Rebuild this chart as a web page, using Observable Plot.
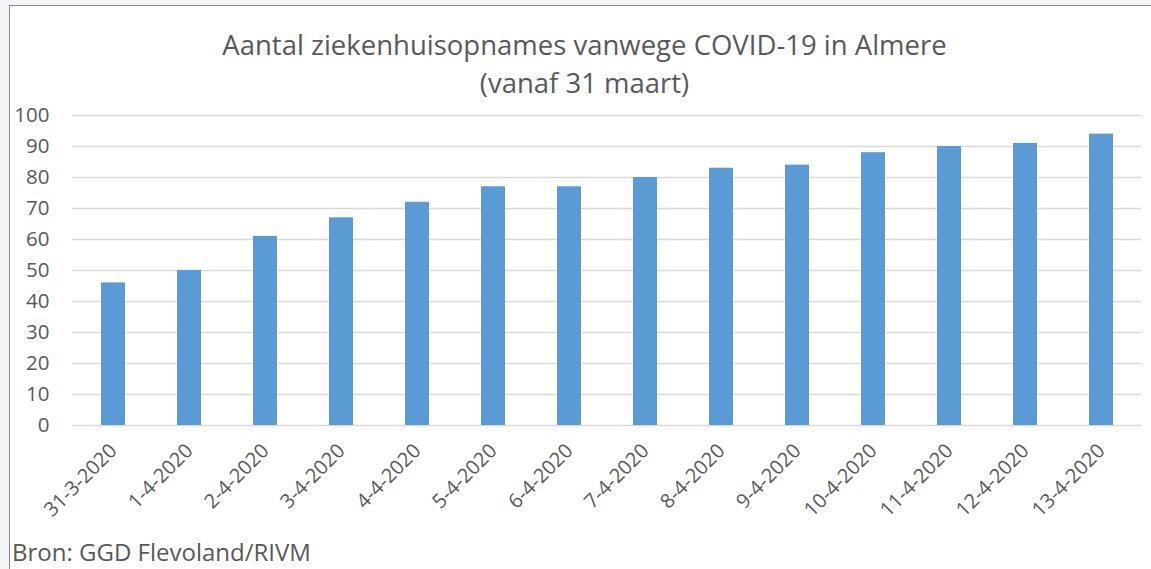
<!DOCTYPE html>
<html><head><meta charset="utf-8">
<script src="https://cdn.jsdelivr.net/npm/d3@7"></script>
<script src="https://cdn.jsdelivr.net/npm/@observablehq/plot@0.6"></script>
<style>
body{margin:0;background:#f4f5f9;font-family:"Open Sans",sans-serif;}
#frame{position:absolute;left:9px;top:5px;width:1160px;height:580px;background:#fff;border:1.5px solid #8c8c8c;box-sizing:border-box;}
#title{position:absolute;left:9px;top:26px;width:1151px;text-align:center;color:#595959;font-size:27.5px;line-height:38px;}
#chart{position:absolute;left:0;top:100px;}
#chart svg g[aria-label="y-axis tick label"] text{font-size:20.5px !important;}
#chart svg g[aria-label="x-axis tick label"] text{font-size:20px !important;}
#caption{position:absolute;left:12px;top:540px;color:#595959;font-size:24px;line-height:1;}
</style></head>
<body>
<div id="frame"></div>
<div id="title">Aantal ziekenhuisopnames vanwege COVID-19 in Almere<br>(vanaf 31 maart)</div>
<div id="chart"></div>
<div id="caption">Bron: GGD Flevoland/RIVM</div>
<script>
const dates = ["31-3-2020","1-4-2020","2-4-2020","3-4-2020","4-4-2020","5-4-2020","6-4-2020","7-4-2020","8-4-2020","9-4-2020","10-4-2020","11-4-2020","12-4-2020","13-4-2020"];
const values = [46,50,61,67,72,77,77,80,83,84,88,90,91,94];
const yTicks = [0,10,20,30,40,50,60,70,80,90,100];
const data = dates.map((d,i)=>({date:d,value:values[i]}));
const chart = Plot.plot({
  width:1151, height:430,
  marginLeft:72, marginRight:10, marginTop:15, marginBottom:105,
  style:{fontFamily:"Open Sans, sans-serif", fontSize:"20px", color:"#595959", background:"transparent"},
  x:{domain:dates, paddingInner:0.686, paddingOuter:0.343, label:null},
  y:{domain:[0,100], label:null},
  marks:[
    Plot.ruleY(yTicks,{stroke:"#d9d9d9",strokeWidth:1.5}),
    Plot.barY(data,{x:"date",y:"value",fill:"#5b9bd5"}),
    Plot.axisX({tickRotate:-45,tickSize:0,tickPadding:22,fontSize:20}),
    Plot.axisY({ticks:yTicks,tickSize:0,tickPadding:23,fontSize:20.5})
  ]
});
document.getElementById("chart").appendChild(chart);
</script>
</body></html>
